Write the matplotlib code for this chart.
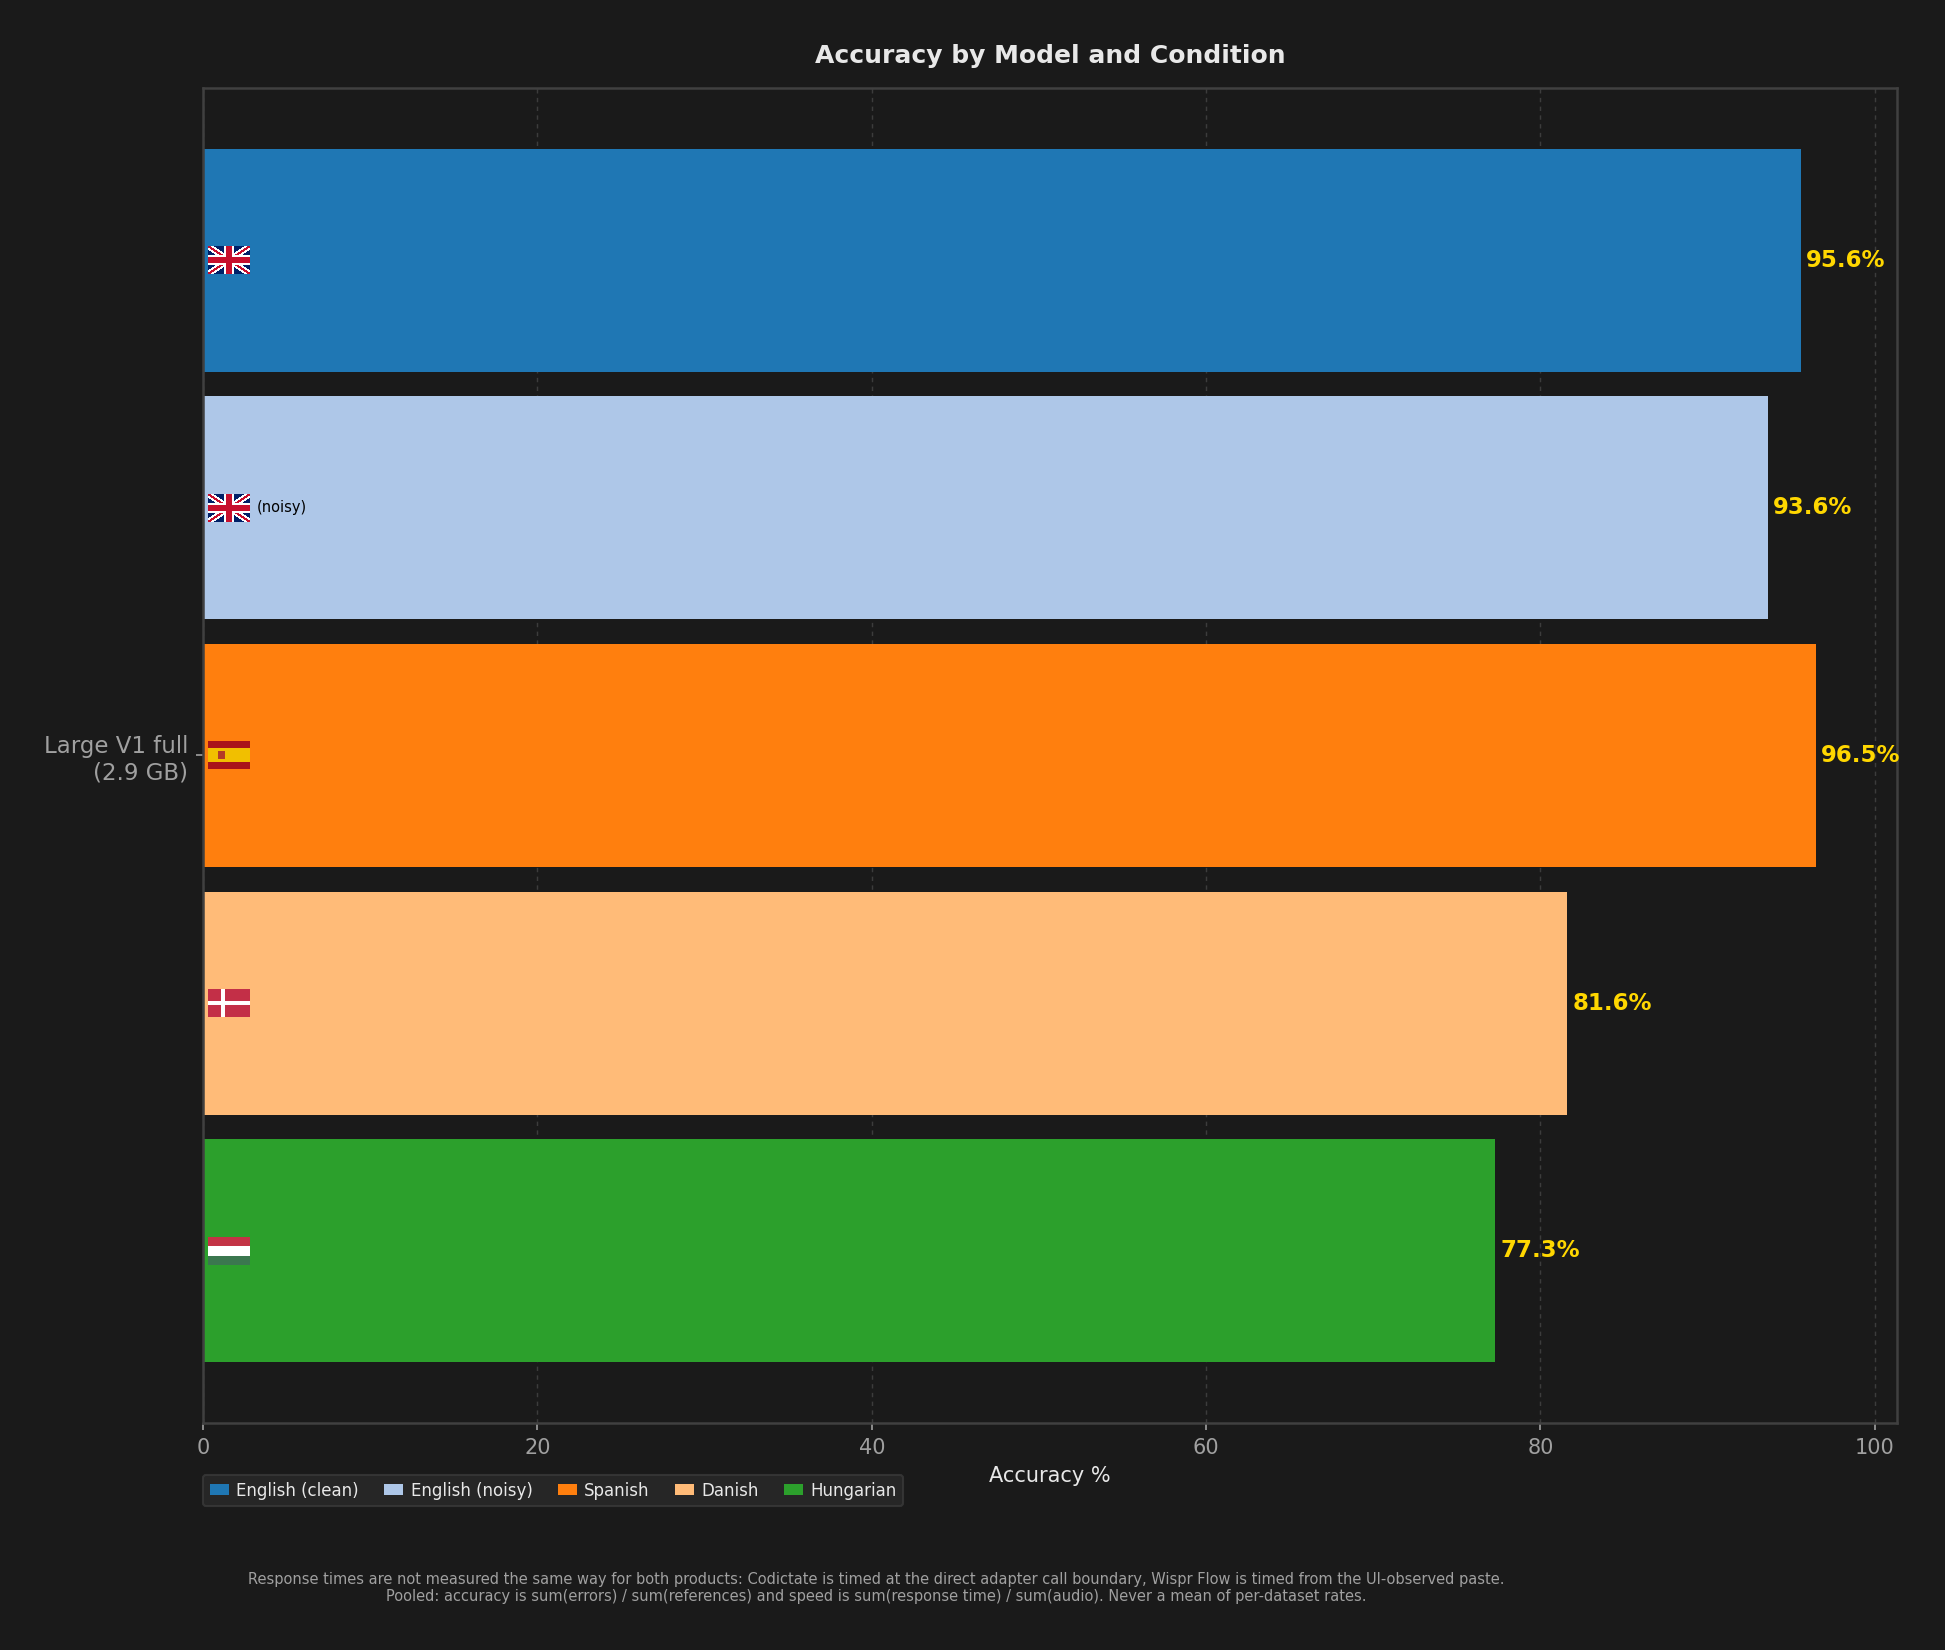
#!/usr/bin/env python3
"""Accuracy by model and condition — dark horizontal bars."""
import numpy as np
import matplotlib
matplotlib.use("Agg")
import matplotlib.pyplot as plt
from matplotlib.offsetbox import OffsetImage, AnnotationBbox
from matplotlib.patches import Patch

# ── data ──────────────────────────────────────────────────────────────────────
model_label = "Large V1 full\n(2.9 GB)"
conditions = ["English (clean)", "English (noisy)", "Spanish", "Danish", "Hungarian"]
flags = ["gb", "gb", "es", "dk", "hu"]
suffixes = ["", "(noisy)", "", "", ""]
accuracy = [95.6, 93.6, 96.5, 81.6, 77.3]

footnote = ("Response times are not measured the same way for both products: Codictate is timed at "
            "the direct adapter call boundary, Wispr Flow is timed from the UI-observed paste.\n"
            "Pooled: accuracy is sum(errors) / sum(references) and speed is sum(response time) / "
            "sum(audio). Never a mean of per-dataset rates.")

# ── style ─────────────────────────────────────────────────────────────────────
BG = "#1a1a1a"
SPINE = "#404040"
GRID = "#3c3c3c"
TEXT = "#e8e8e8"
MUTED = "#a0a0a0"
GOLD = "#FFD700"
COLORS = ["#1f77b4", "#aec7e8", "#ff7f0e", "#ffbb78", "#2ca02c"]
DPI = 150


def flag_image(code, h=28, w=42):
    img = np.ones((h, w, 3))
    yy, xx = np.mgrid[0:h, 0:w] + 0.5
    if code == "gb":
        blue = np.array([1, 33, 105]) / 255
        red = np.array([200, 16, 46]) / 255
        img[:] = blue
        norm = np.hypot(h, w)
        d1 = np.abs(h * xx - w * yy) / norm
        d2 = np.abs(h * xx - w * (h - yy)) / norm
        diag = np.minimum(d1, d2)
        img[diag < h * 0.11] = 1.0
        img[diag < h * 0.04] = red
        cross = (np.abs(xx - w / 2) < h * 0.17) | (np.abs(yy - h / 2) < h * 0.17)
        img[cross] = 1.0
        cross = (np.abs(xx - w / 2) < h * 0.10) | (np.abs(yy - h / 2) < h * 0.10)
        img[cross] = red
    elif code == "es":
        red = np.array([170, 21, 27]) / 255
        yel = np.array([241, 191, 0]) / 255
        img[:] = red
        img[(yy > h / 4) & (yy < 3 * h / 4)] = yel
        emb = (np.abs(xx - w * 0.33) < 3.5) & (np.abs(yy - h / 2) < 4.5)
        img[emb] = np.array([180, 60, 40]) / 255
    elif code == "dk":
        red = np.array([196, 48, 72]) / 255
        img[:] = red
        cross = (np.abs(xx - w * 0.36) < h * 0.08) | (np.abs(yy - h / 2) < h * 0.08)
        img[cross] = 1.0
    elif code == "hu":
        img[yy < h / 3] = np.array([196, 52, 70]) / 255
        img[yy > 2 * h / 3] = np.array([60, 120, 80]) / 255
    alpha = np.ones((h, w, 1))
    return np.concatenate([img, alpha], axis=2)


plt.rcParams.update({
    "figure.facecolor": BG, "axes.facecolor": BG,
    "axes.edgecolor": SPINE, "axes.labelcolor": TEXT,
    "xtick.color": MUTED, "ytick.color": MUTED,
    "font.family": "DejaVu Sans",
})

fig = plt.figure(figsize=(1945 / DPI, 1650 / DPI), dpi=DPI)
ax = fig.add_axes([0.1044, 0.1376, 0.8709, 0.8091])

ypos = np.arange(len(conditions))
bars = ax.barh(ypos, accuracy, height=0.9, color=COLORS, zorder=2)
ax.invert_yaxis()
ax.set_xlim(0, max(accuracy) * 1.05)

for y, val in zip(ypos, accuracy):
    ax.text(val + 0.3, y, f"{val:.1f}%", va="center", ha="left",
            color=GOLD, fontsize=11, fontweight="bold", zorder=3)

for y, code, suf in zip(ypos, flags, suffixes):
    ob = OffsetImage(flag_image(code), zoom=72 / DPI)
    ab = AnnotationBbox(ob, (0.3, y), box_alignment=(0, 0.5), frameon=False, pad=0, zorder=4)
    ax.add_artist(ab)
    if suf:
        ax.annotate(suf, xy=(0.3, y), xytext=(23.5, 0), textcoords="offset points",
                    va="center", ha="left", fontsize=7, color="black", zorder=4)

ax.set_yticks([ypos.mean()])
ax.set_yticklabels([model_label], fontsize=11)
ax.tick_params(axis="x", labelsize=10)
ax.set_xlabel("Accuracy %", fontsize=10, color=TEXT)
ax.set_title("Accuracy by Model and Condition", fontsize=12, fontweight="bold",
             color=TEXT, pad=12)
ax.grid(True, axis="x", color=GRID, linestyle=(0, (3, 3)), linewidth=0.7, zorder=0)
ax.set_axisbelow(True)
for sp in ax.spines.values():
    sp.set_color(SPINE)
    sp.set_linewidth(1.2)

handles = [Patch(facecolor=c, label=l) for c, l in zip(COLORS, conditions)]
leg = ax.legend(handles=handles, loc="upper left", bbox_to_anchor=(0, -0.039), ncol=5,
                fontsize=8, frameon=True, facecolor="#2a2a2a", edgecolor="#3a3a3a",
                labelcolor=TEXT, borderaxespad=0, handlelength=1.15, handleheight=0.66,
                columnspacing=1.5, handletextpad=0.45)

fig.text(0.4504, 0.0376, footnote, ha="center", va="center", fontsize=7, color=MUTED)

fig.savefig("out.png", dpi=DPI, facecolor=BG)
print("saved -> out.png")
